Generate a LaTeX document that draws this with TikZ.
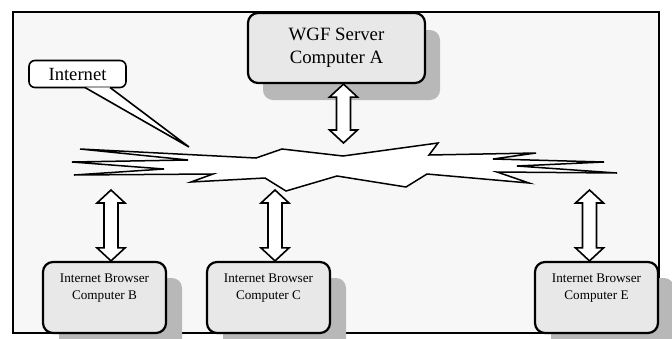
\documentclass[tikz,border=0pt]{standalone}
\usepackage{fontspec}
\setmainfont{Liberation Serif}
\usetikzlibrary{calc,positioning,shadows}

\tikzset{
  frame/.style={draw=black,line width=1.3pt,fill=lframe},
  server/.style={draw=black,line width=2.2pt,fill=lbox,rounded corners=10pt,
    minimum width=177pt,minimum height=70pt,align=center,
    font=\fontsize{18.8}{23}\selectfont,
    drop shadow={shadow xshift=15pt,shadow yshift=-17pt,fill=lshadow,opacity=1}},
  browser/.style={draw=black,line width=2.2pt,fill=lbox,rounded corners=10pt,
    minimum width=123pt,minimum height=71pt,
    drop shadow={shadow xshift=16pt,shadow yshift=-16pt,fill=lshadow,opacity=1}},
  btext/.style={align=center,font=\fontsize{13.2}{17}\selectfont},
  callout/.style={draw=black,line width=1.6pt,fill=white,rounded corners=6pt,
    minimum width=97pt,minimum height=27pt,font=\fontsize{18.6}{22}\selectfont},
  bolt/.style={draw=black,line width=1.5pt,fill=white,line join=miter},
  blockarrow/.style={draw=black,line width=1.6pt,fill=white,line join=miter},
}

% double headed block arrow, #1 = top tip, #2 = bottom tip
\newcommand{\updown}[2]{%
  \draw[blockarrow] (#1) -- ($(#1)+(14,13)$) -- ($(#1)+(7,13)$)
    -- ($(#2)+(7,-13)$) -- ($(#2)+(14,-13)$) -- (#2)
    -- ($(#2)+(-14,-13)$) -- ($(#2)+(-7,-13)$)
    -- ($(#1)+(-7,13)$) -- ($(#1)+(-14,13)$) -- cycle;}

\begin{document}
\begin{tikzpicture}[x=1pt,y=-1pt]
  \definecolor{lframe}{RGB}{247,247,247}
  \definecolor{lbox}{RGB}{232,232,232}
  \definecolor{lshadow}{RGB}{184,184,184}
  \useasboundingbox (0,0) rectangle (672,338);
  \draw[frame] (13,12) rectangle (659,333);

  % the network
  \draw[bolt] (80,149) -- (256,158) -- (282,149) -- (343,156) -- (438,143)
    -- (429,155) -- (536,153) -- (493,159) -- (604,162) -- (517,166)
    -- (617,173) -- (497,172) -- (529,183) -- (427,174) -- (406,187)
    -- (337,176) -- (286,191) -- (265,178) -- (191,182) -- (213,174)
    -- (74,175) -- (164,169) -- (72,162) -- (188,160) -- cycle;
  \coordinate (jA) at (343.5,143);
  \coordinate (jB) at (111,190);
  \coordinate (jC) at (275,190);
  \coordinate (jE) at (589.5,190);
  \coordinate (tip) at (189,147);

  % computers
  \node[server] (srv) at (336.5,48) {WGF Server\\Computer A};
  \node[browser] (bB) at (104.5,297.5) {};
  \node[browser] (bC) at (268.5,297.5) {};
  \node[browser] (bE) at (596.5,297.5) {};
  \node[btext,below=9pt of bB.north] (tB) {Internet Browser\\Computer B};
  \node[btext,below=9pt of bC.north] (tC) {Internet Browser\\Computer C};
  \node[btext,below=9pt of bE.north] (tE) {Internet Browser\\Computer E};

  % links
  \coordinate (aA) at (srv.south -| jA);
  \coordinate (aB) at (bB.north -| jB);
  \coordinate (aC) at (bC.north -| jC);
  \coordinate (aE) at (bE.north -| jE);
  \updown{aA}{jA}
  \updown{jB}{aB}
  \updown{jC}{aC}
  \updown{jE}{aE}

  % label
  \node[callout] (inet) at (77.5,74) {Internet};
  \fill[white] ([xshift=7.5pt,yshift=1pt]inet.south) -- (tip)
    -- ([xshift=32.5pt,yshift=1pt]inet.south) -- cycle;
  \draw[line width=1.6pt] ([xshift=7.5pt,yshift=0.8pt]inet.south) -- (tip)
    -- ([xshift=32.5pt,yshift=0.8pt]inet.south);
\end{tikzpicture}
\end{document}
